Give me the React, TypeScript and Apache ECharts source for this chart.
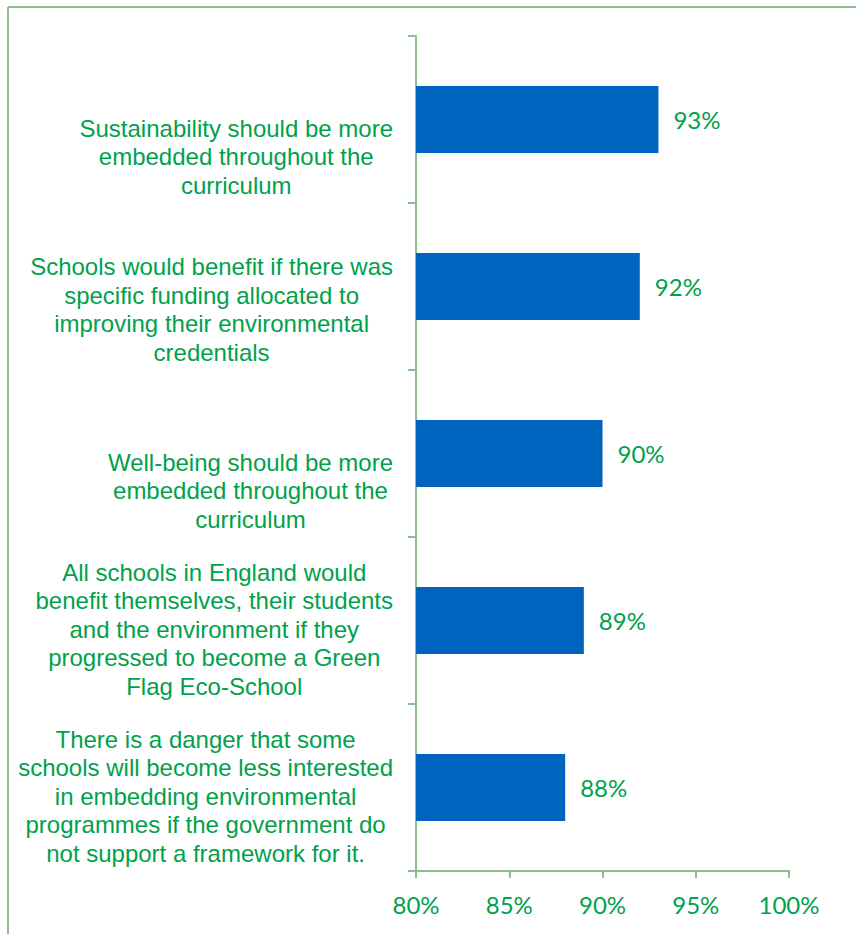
import React, { useEffect, useRef } from "react";
import * as echarts from "echarts";

const categories: string[] = [
  "Sustainability should be more\nembedded throughout the\ncurriculum",
  "Schools would benefit if there was\nspecific funding allocated to\nimproving their environmental\ncredentials",
  "Well-being should be more\nembedded throughout the\ncurriculum",
  "All schools in England would\nbenefit themselves, their students\nand the environment if they\nprogressed to become a Green\nFlag Eco-School",
  "There is a danger that some\nschools will become less interested\nin embedding environmental\nprogrammes if the government do\nnot support a framework for it.",
];
const values: number[] = [93, 92, 90, 89, 88];
const axisMin = 80;
const axisMax = 100;
const axisStep = 5;

const GREEN_TEXT = "#00A14B";
const FRAME = "#8DBE90";
const BAR = "#0063BE";
const LINE_H = 28.5;
const LABEL_OFFSET = 80;

export default function App() {
  const ref = useRef<HTMLDivElement>(null);
  useEffect(() => {
    if (!ref.current) return;
    const chart = echarts.init(ref.current, null, { renderer: "svg" });
    const rich: Record<string, any> = {
      c: {
        align: "center",
        fontFamily: "Liberation Sans",
        fontSize: 24,
        lineHeight: LINE_H,
        color: GREEN_TEXT,
      },
    };
    [1, 2, 3, 4, 5, 6].forEach((n) => {
      rich["sp" + n] = {
        fontSize: 1,
        lineHeight: Math.max(1, 2 * LABEL_OFFSET - n * LINE_H),
        color: "rgba(0,0,0,0)",
      };
    });
    chart.setOption({
      animation: false,
      backgroundColor: "#ffffff",
      grid: { left: 416, right: 67, top: 36, bottom: 63, containLabel: false },
      xAxis: {
        type: "value",
        min: axisMin,
        max: axisMax,
        interval: axisStep,
        axisLine: { show: true, lineStyle: { color: FRAME, width: 2 } },
        axisTick: { show: true, length: 7, lineStyle: { color: FRAME, width: 2 } },
        splitLine: { show: false },
        axisLabel: {
          formatter: "{value}%",
          fontFamily: "Lato",
          fontSize: 24,
          color: GREEN_TEXT,
          margin: 21,
        },
      },
      yAxis: {
        type: "category",
        data: categories,
        inverse: true,
        axisLine: { show: true, lineStyle: { color: FRAME, width: 2 } },
        axisTick: { show: true, length: 8, lineStyle: { color: FRAME, width: 2 } },
        axisLabel: {
          interval: 0,
          margin: 23,
          formatter: (v: string) => {
            const lines = v.split("\n");
            return (
              `{sp${lines.length}|\u00a0}\n` +
              lines.map((l) => `{c|${l}}`).join("\n")
            );
          },
          rich,
        },
      },
      series: [
        {
          type: "bar",
          data: values,
          barWidth: 67,
          itemStyle: { color: BAR },
          label: {
            show: true,
            position: "right",
            distance: 15,
            formatter: "{c}%",
            fontFamily: "Lato",
            fontSize: 24,
            color: GREEN_TEXT,
          },
        },
      ],
      graphic: [
        {
          type: "line",
          shape: { x1: 8, y1: 7, x2: 860, y2: 7 },
          style: { stroke: FRAME, lineWidth: 2 },
        },
        {
          type: "line",
          shape: { x1: 8, y1: 7, x2: 8, y2: 940 },
          style: { stroke: FRAME, lineWidth: 2 },
        },
      ],
    });
    return () => chart.dispose();
  }, []);
  return (
    <div
      ref={ref}
      style={{ position: "absolute", left: 0, top: 0, width: 856, height: 934 }}
    />
  );
}
